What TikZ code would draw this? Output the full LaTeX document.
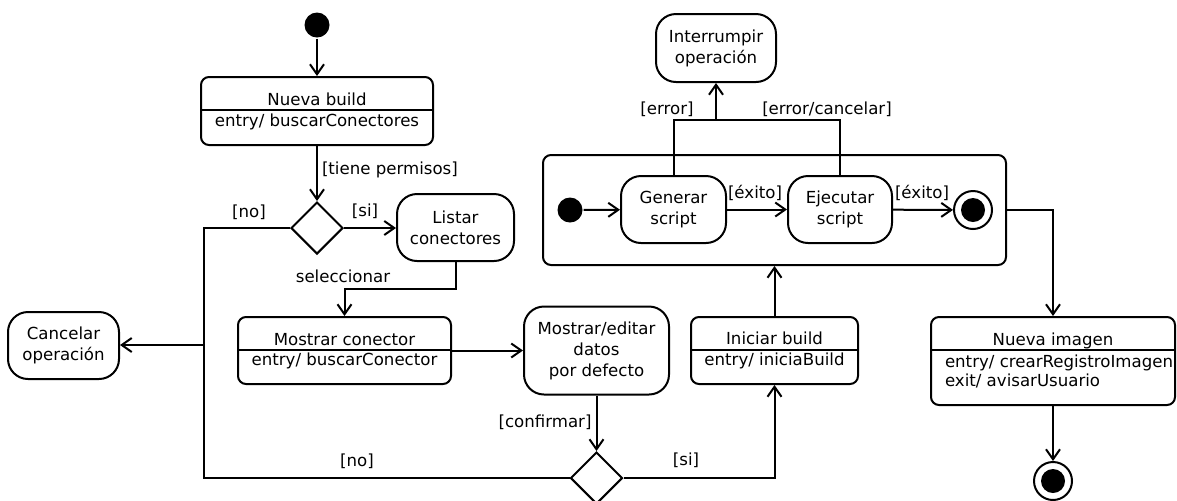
\documentclass[tikz,border=0pt]{standalone}
\usepackage{fontspec}
\setmainfont{DejaVu Sans}
\usetikzlibrary{positioning}
\usetikzlibrary{shapes.geometric}
\usetikzlibrary{arrows.meta}
\tikzset{
	state/.style={draw, rounded corners=10pt, inner sep=0pt, align=center},
	cstate/.style={draw, rounded corners=4pt, inner sep=0pt},
	choice/.style={draw, diamond, inner sep=0pt, minimum width=26pt, minimum height=26pt},
	inistate/.style={circle, fill, inner sep=0pt, minimum size=12.5pt},
	finstate/.style={circle, draw, inner sep=0pt, minimum size=19pt,
		path picture={\fill (path picture bounding box.center) circle (6pt);}},
	txt/.style={anchor=base, inner sep=0pt},
	trans/.style={-{Straight Barb[length=5pt,width=7pt]}},
}

\begin{document}
\begin{tikzpicture}[x=0.5pt, y=-0.5pt, line width=1pt, font=\fontsize{8.3}{10.5}\selectfont]
		\useasboundingbox (0,0) rectangle (1177,500);
		\node[inistate] (i0) at (317,25){};
		\node[cstate, minimum width=116pt, minimum height=34pt] (nb) at (317,111){};
		\draw (nb.west |- 0,110) -- (nb.east |- 0,110);
		\node[txt] (nbt) at (317,105.5){Nueva build};
		\node[txt] (nbe) at (317,126.5){entry/ buscarConectores};
		\node[choice] (d1) at (317,228){};
		\node[state, minimum width=58.5pt, minimum height=33.5pt] (lc) at (455.5,227.5){Listar\\conectores};
		\node[state, minimum width=55.5pt, minimum height=33.5pt] (co) at (63.5,345.5){Cancelar\\operación};
		%
		\node[cstate, minimum width=106.5pt, minimum height=33.5pt] (mc) at (344.5,350.5){};
		\draw (mc.west |- 0,350) -- (mc.east |- 0,350);
		\node[txt] (mct) at (344.5,345.5){Mostrar conector};
		\node[txt] (mce) at (344.5,365.5){entry/ buscarConector};
		\node[state, minimum width=72.5pt, minimum height=44pt] (me) at (596.5,350.5){Mostrar/editar\\datos\\por defecto};
		\node[choice] (d2) at (596.5,478){};
		\node[cstate, minimum width=83.5pt, minimum height=33.5pt] (ib) at (774.5,350.5){};
		\draw (ib.west |- 0,350) -- (ib.east |- 0,350);
		\node[txt] (ibt) at (774.5,344.5){Iniciar build};
		\node[txt] (ibe) at (774.5,365.5){entry/ iniciaBuild};
		%
		\node[cstate, minimum width=231.5pt, minimum height=55pt] (ob) at (774.5,210){};
		\node[inistate] (i1) at (570,210){};
		\node[state, minimum width=52.5pt, minimum height=33.5pt] (gs) at (673.5,209.5){Generar\\script};
		\node[state, minimum width=52pt, minimum height=33.5pt] (es) at (840,209.5){Ejecutar\\script};
		\node[finstate] (f1) at (973,210){};
		\node[state, minimum width=60pt, minimum height=34pt] (ir) at (716,48){Interrumpir\\operación};
		\coordinate (er) at (716,120);
		%
		\node[cstate, minimum width=122pt, minimum height=44pt] (ni) at (1053,361){};
		\draw (ni.west |- 0,350) -- (ni.east |- 0,350);
		\node[txt] (nit) at (1053,345.5){Nueva imagen};
		\node[txt, anchor=base west] (nie) at (944,367){entry/ crearRegistroImagen};
		\node[txt, anchor=base west] (nix) at (944,386){exit/ avisarUsuario};
		\node[finstate] (f2) at (1053,481){};
		%
		\draw[trans] (i0) -- (nb);
		\draw[trans] (nb) -- (d1);
		\draw[trans] (d1.east) -- (d1.east -| lc.west);
		\coordinate (jn) at (204,345);
		\draw (d1.west) -| (jn);
		\draw (d2.west) -| (jn);
		\draw[trans] (jn) -- (co.east |- jn);
		\draw[trans] (lc.south) -- ++(0,27) -| (mc.north);
		\draw[trans] (mc) -- (me);
		\draw[trans] (me) -- (d2);
		\draw[trans] (d2.east) -| (ib.south);
		\draw[trans] (ib) -- (ob);
		\draw[trans] (i1) -- (gs);
		\draw[trans] (gs) -- (es);
		\draw[trans] (es) -- (f1);
		\draw (gs.north) |- (es.north |- er) -- (es.north);
		\draw[trans] (er) -- (ir);
		\draw[trans] (ob.east) -| (ni.north);
		\draw[trans] (ni) -- (f2);
		%
		\node[txt, anchor=base west] (l1) at (321,174.5){[tiene permisos]};
		\node[txt] (l2) at (249,217.5){[no]};
		\node[txt] (l3) at (365,216.5){[si]};
		\node[txt] (l4) at (343,282){seleccionar};
		\node[txt] (l5) at (755,198.5){[éxito]};
		\node[txt] (l6) at (922,198.5){[éxito]};
		\node[txt] (l7) at (667,114.5){[error]};
		\node[txt] (l8) at (827,114.5){[error/cancelar]};
		\node[txt] (l9) at (545,427.5){[confirmar]};
		\node[txt] (l10) at (686,465.5){[si]};
		\node[txt] (l11) at (357,466.5){[no]};
	\end{tikzpicture}
\end{document}
